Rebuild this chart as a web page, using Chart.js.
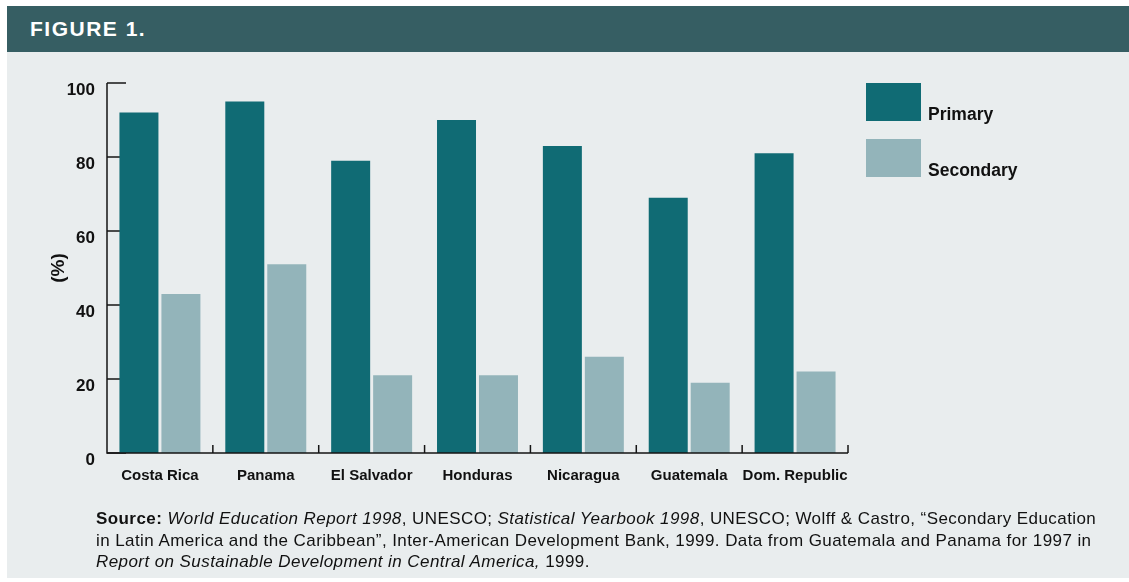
<!DOCTYPE html>
<html>
<head>
<meta charset="utf-8">
<script src="https://cdn.jsdelivr.net/npm/chart.js@4"></script>
<style>
    body { margin: 0; background: #ffffff; font-family: 'Liberation Sans', Arial, sans-serif; }
    #header {
        position: absolute; left: 7px; top: 6px; width: 1122px; height: 46px;
        background: #365e63; color: #ffffff;
    }
    #header span {
        position: absolute; left: 23px; top: 11px;
        font-weight: bold; font-size: 21px; letter-spacing: 1.5px; line-height: 24px;
    }
    #panel {
        position: absolute; left: 7px; top: 52px; width: 1122px; height: 526px;
        background: #e9edee;
    }
    #chart-box { position: absolute; left: 0; top: 52px; width: 1129px; height: 460px; }
    .legend-box { position: absolute; left: 866px; width: 55px; height: 38px; }
    .legend-label {
        position: absolute; left: 928px; font-weight: bold; font-size: 17.5px;
        line-height: 20px; color: #111111;
    }
    #source {
        position: absolute; left: 96px; top: 508px; width: 1030px;
        font-size: 17px; letter-spacing: 0.42px; line-height: 21.5px; color: #111111;
        white-space: nowrap;
    }
</style>
</head>
<body>
<div id="header"><span>FIGURE 1.</span></div>
<div id="panel"></div>
<div id="chart-box"><canvas id="eduChart"></canvas></div>
<div id="legend"></div>
<div id="source">
    <b>Source:</b> <i>World Education Report 1998</i>, UNESCO; <i>Statistical Yearbook 1998</i>, UNESCO; Wolff &amp; Castro, “Secondary Education<br>
    in Latin America and the Caribbean”, Inter-American Development Bank, 1999. Data from Guatemala and Panama for 1997 in<br>
    <i>Report on Sustainable Development in Central America,</i> 1999.
</div>

<script>
/* chart data */
const countries = ['Costa Rica', 'Panama', 'El Salvador', 'Honduras', 'Nicaragua', 'Guatemala', 'Dom. Republic'];
const primaryRates = [92, 95, 79, 90, 83, 69, 81];
const secondaryRates = [43, 51, 21, 21, 26, 19, 22];
const seriesNames = ['Primary', 'Secondary'];
const seriesColors = ['#106b74', '#93b4ba'];

const axisColor = '#151515';

// axis lines + tick marks drawn from the scales
const axisLines = {
    id: 'axisLines',
    beforeDatasetsDraw(chart) {
        const ctx = chart.ctx;
        const y = chart.scales.y;
        ctx.save();
        ctx.strokeStyle = axisColor;
        ctx.lineWidth = 1.5;
        y.ticks.forEach(t => {
            const py = y.getPixelForValue(t.value);
            ctx.beginPath();
            ctx.moveTo(y.right, py);
            ctx.lineTo(y.right + 19, py);
            ctx.stroke();
        });
        ctx.restore();
    },
    afterDatasetsDraw(chart) {
        const ctx = chart.ctx;
        const area = chart.chartArea;
        const x = chart.scales.x;
        ctx.save();
        ctx.strokeStyle = axisColor;
        ctx.lineWidth = 1.5;
        ctx.beginPath();
        ctx.moveTo(area.left, area.top);
        ctx.lineTo(area.left, area.bottom);
        ctx.lineTo(area.right, area.bottom);
        ctx.stroke();
        const step = x.width / countries.length;
        for (let i = 1; i <= countries.length; i++) {
            const px = x.left + i * step;
            ctx.beginPath();
            ctx.moveTo(px, area.bottom);
            ctx.lineTo(px, area.bottom - 8);
            ctx.stroke();
        }
        ctx.restore();
    }
};

const ctx = document.getElementById('eduChart').getContext('2d');
const chart = new Chart(ctx, {
    type: 'bar',
    data: {
        labels: countries,
        datasets: [
            { label: seriesNames[0], data: primaryRates, backgroundColor: seriesColors[0] },
            { label: seriesNames[1], data: secondaryRates, backgroundColor: seriesColors[1] }
        ]
    },
    options: {
        responsive: true,
        maintainAspectRatio: false,
        animation: false,
        categoryPercentage: 0.793,
        barPercentage: 0.929,
        layout: { padding: { left: 0, right: 281, top: 31, bottom: 0 } },
        plugins: {
            legend: { display: false },
            tooltip: { enabled: false }
        },
        scales: {
            x: {
                grid: { display: false, drawTicks: false },
                border: { display: false },
                ticks: {
                    color: '#111111',
                    padding: 14,
                    maxRotation: 0,
                    autoSkip: false,
                    font: { family: "'Liberation Sans', Arial, sans-serif", size: 15, weight: 'bold' }
                },
                afterFit(scale) { scale.height = 59; }
            },
            y: {
                min: 0,
                max: 100,
                grid: { display: false, drawTicks: false },
                border: { display: false },
                ticks: {
                    stepSize: 20,
                    color: '#111111',
                    padding: 12,
                    labelOffset: 7,
                    font: { family: "'Liberation Sans', Arial, sans-serif", size: 17, weight: 'bold' }
                },
                title: {
                    display: true,
                    text: '(%)',
                    color: '#111111',
                    padding: { top: 47, bottom: 0 },
                    font: { family: "'Liberation Sans', Arial, sans-serif", size: 19, weight: 'bold' }
                },
                afterFit(scale) { scale.width = 107; }
            }
        }
    },
    plugins: [axisLines]
});

// legend built from the datasets
const legend = document.getElementById('legend');
chart.data.datasets.forEach((ds, i) => {
    const box = document.createElement('div');
    box.className = 'legend-box';
    box.style.top = (83 + i * 56) + 'px';
    box.style.background = ds.backgroundColor;
    legend.appendChild(box);
    const label = document.createElement('div');
    label.className = 'legend-label';
    label.style.top = (104 + i * 56) + 'px';
    label.textContent = ds.label;
    legend.appendChild(label);
});
</script>
</body>
</html>
